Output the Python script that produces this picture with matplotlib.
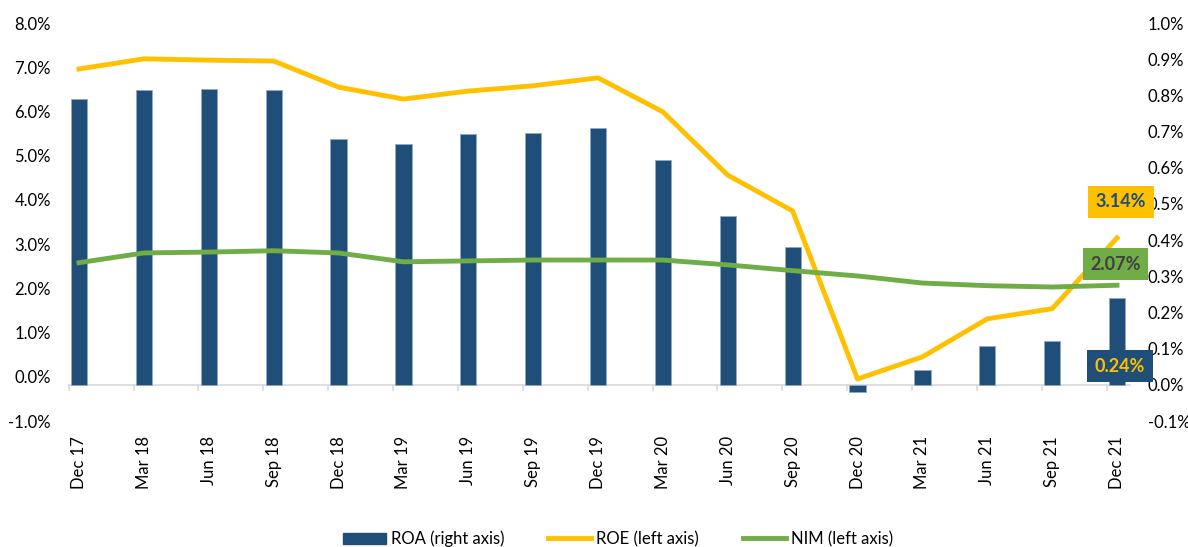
import matplotlib
matplotlib.use("Agg")
import matplotlib.pyplot as plt
from matplotlib.lines import Line2D
from matplotlib.patches import Patch
from matplotlib.ticker import FuncFormatter, MultipleLocator

plt.rcParams['font.family'] = ['Lato', 'DejaVu Sans']

categories = ["Dec 17", "Mar 18", "Jun 18", "Sep 18", "Dec 18", "Mar 19", "Jun 19", "Sep 19",
              "Dec 19", "Mar 20", "Jun 20", "Sep 20", "Dec 20", "Mar 21", "Jun 21", "Sep 21", "Dec 21"]
roa = [0.79, 0.815, 0.818, 0.815, 0.68, 0.666, 0.694, 0.697, 0.71, 0.622, 0.467, 0.381,
       -0.02, 0.041, 0.108, 0.122, 0.24]
roe = [6.96, 7.19, 7.16, 7.14, 6.55, 6.28, 6.46, 6.58, 6.76, 5.99, 4.56, 3.75,
       -0.05, 0.45, 1.31, 1.54, 3.14]
nim = [2.58, 2.80, 2.82, 2.85, 2.80, 2.60, 2.62, 2.64, 2.64, 2.64, 2.53, 2.40,
       2.28, 2.12, 2.06, 2.03, 2.07]

BLUE = "#1F4E79"
YELLOW = "#FFC000"
GREEN = "#70AD47"

W, H = 1188, 547
fig = plt.figure(figsize=(W / 100, H / 100), dpi=100)
L, R, T, B = 58, 1142, 23, 421
ax = fig.add_axes([L / W, 1 - B / H, (R - L) / W, (B - T) / H])
ax2 = ax.twinx()

x = list(range(len(categories)))
xmin, xmax = -0.324, 16.385

# bars on right axis
ax2.bar(x, roa, width=0.25, color=BLUE, edgecolor="#8EA9C8", linewidth=0.6, zorder=2)
ax2.set_ylim(-0.1, 1.0)
ax2.yaxis.set_major_locator(MultipleLocator(0.1))
ax2.yaxis.set_major_formatter(FuncFormatter(lambda v, p: f"{v:.1f}%"))

# lines on left axis (draw above bars)
ax.set_zorder(ax2.get_zorder() + 1)
ax.patch.set_visible(False)
ax.plot(x, roe, color=YELLOW, lw=3.5, zorder=3)
ax.plot(x, nim, color=GREEN, lw=3.5, zorder=3)
ax.set_ylim(-1, 8)
ax.yaxis.set_major_locator(MultipleLocator(1))
ax.yaxis.set_major_formatter(FuncFormatter(lambda v, p: f"{v:.1f}%"))
ax.set_xlim(xmin, xmax)
ax2.set_xlim(xmin, xmax)

for a in (ax, ax2):
    for s in a.spines.values():
        s.set_visible(False)
    a.tick_params(axis='y', length=0, labelsize=12, colors="#000000", pad=5)
ax2.tick_params(axis='y', pad=4)

ax.set_xticks(x)
ax.set_xticklabels(categories, rotation=90, fontsize=12)
ax.tick_params(axis='x', length=0, pad=11)
ax2.tick_params(axis='x', length=0, labelbottom=False)

# category axis line at right-axis zero with tick marks
ax2.plot([-0.16, 16.2], [0, 0], color="#D9D9D9", lw=1.2, zorder=1, clip_on=False)
for k in range(len(categories)):
    ax2.plot([k - 0.16, k - 0.16], [0, -0.013], color="#D9D9D9", lw=1.2, zorder=1, clip_on=False)

# data labels on last point
last = len(categories) - 1
box = dict(boxstyle="square,pad=0.42", ec="none")
ax.annotate(f"{roe[last]:.2f}%", xy=(last, roe[last]), xytext=(3, 26), textcoords="offset points",
            ha="center", va="center", fontsize=13, fontweight="bold", color=BLUE,
            bbox={**box, "fc": YELLOW}, zorder=5)
ax.annotate(f"{nim[last]:.2f}%", xy=(last, nim[last]), xytext=(-1, 15), textcoords="offset points",
            ha="center", va="center", fontsize=13, fontweight="bold", color="#404040",
            bbox={**box, "fc": GREEN}, zorder=5)
ax2.annotate(f"{roa[last]:.2f}%", xy=(last, roa[last]), xytext=(2, -49), textcoords="offset points",
             ha="center", va="center", fontsize=13, fontweight="bold", color=YELLOW,
             bbox={**box, "fc": BLUE}, zorder=5)

handles = [Patch(facecolor=BLUE, edgecolor=BLUE),
           Line2D([0], [0], color=YELLOW, lw=3.5),
           Line2D([0], [0], color=GREEN, lw=3.5)]
labels = ["ROA (right axis)", "ROE (left axis)", "NIM (left axis)"]
fig.legend(handles, labels, loc="center", bbox_to_anchor=(618 / W, 1 - 539 / H), ncol=3,
           frameon=False, fontsize=12, handlelength=2.6, handleheight=0.7, columnspacing=2.6,
           handletextpad=0.3)

fig.savefig("out.png", dpi=100)
